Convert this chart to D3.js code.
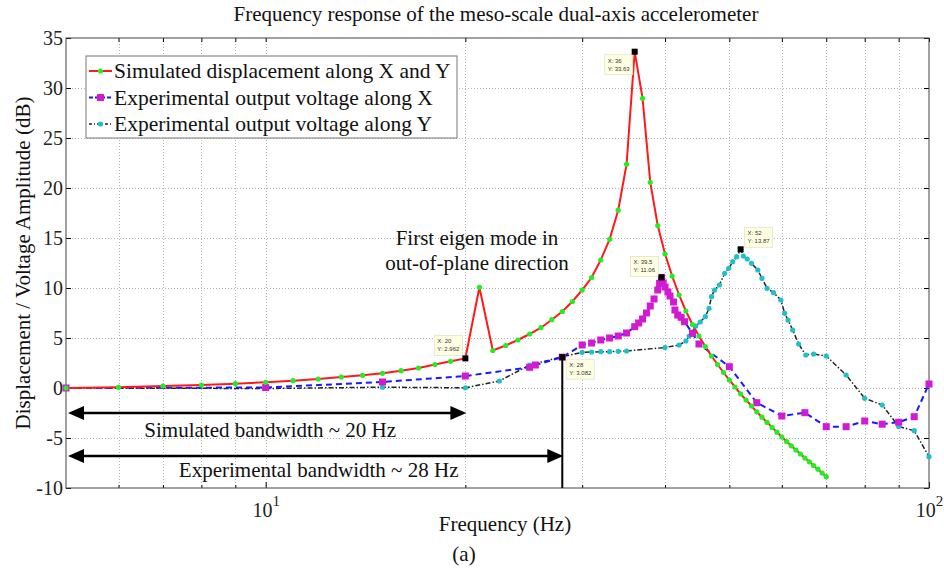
<!DOCTYPE html>
<html>
<head>
<meta charset="utf-8">
<script src="https://cdn.jsdelivr.net/npm/d3@7"></script>
<style>
  body { margin: 0; background: #fff; }
  svg text { font-family: "Liberation Serif", "Times New Roman", serif; }
</style>
</head>
<body>
<div id="chart"></div>
<script>
/* data */
const simFreq = [5, 6, 7, 8, 9, 10, 11, 12, 13, 14, 15, 16, 17, 18, 19, 20,
  21, 22, 23, 24, 25, 26, 27, 28, 29, 30, 31, 32, 33, 34, 35, 36, 37, 38, 39, 40,
  41, 42, 43, 44, 45, 46, 47, 48, 49, 50, 51, 52, 53, 54, 55, 56, 57, 58, 59, 60,
  61, 62, 63, 64, 65, 66, 67, 68, 69, 70];
const simDb = [0, 0.07, 0.2, 0.3, 0.43, 0.57, 0.73, 0.9, 1.1, 1.27, 1.47, 1.73, 2.0, 2.35, 2.67, 2.962,
  10.07, 3.75, 4.25, 4.8, 5.4, 6.03, 6.83, 7.65, 8.65, 9.8, 11.05, 12.8, 14.87, 17.78, 22.37, 33.63,
  28.97, 20.57, 16.25, 13.4, 11.2, 9.3, 7.7, 6.35, 5.2, 4.15, 3.2, 2.35, 1.55, 0.8, 0.1, -0.58,
  -1.2, -1.8, -2.38, -2.92, -3.44, -3.94, -4.42, -4.9, -5.35, -5.78, -6.2, -6.6, -7.0, -7.38,
  -7.75, -8.12, -8.5, -8.87];

const expXFreq = [5, 10, 15, 20, 25, 25.5, 28, 30, 31, 32, 33, 34, 35, 36, 36.5, 37, 37.5, 38,
  38.5, 39, 39.25, 39.5, 39.75, 40, 40.4, 40.7, 41.2, 41.4, 41.8, 42.3, 42.8, 44, 45, 50, 55,
  60, 65, 70, 75, 80, 85, 90, 95, 100];
const expXDb = [0, 0.05, 0.6, 1.2, 2.07, 2.3, 3.082, 4.3, 4.5, 4.8, 5.0, 5.2, 5.5, 6.13, 6.5,
  6.9, 7.5, 8.2, 8.9, 9.8, 10.45, 11.06, 10.5, 10.1, 9.6, 9.2, 8.6, 7.8, 7.3, 7.07, 6.63, 5.47,
  4.4, 2.13, -1.47, -2.8, -2.47, -3.87, -3.87, -3.3, -3.62, -3.42, -2.87, 0.4];

const expYFreq = [5, 10, 15, 20, 22.5, 25, 28, 30, 31, 32, 33, 34, 35, 40, 42, 43, 43.5, 44,
  44.5, 45.2, 46, 46.6, 47, 47.5, 48.3, 49.2, 49.9, 50.6, 51.3, 52, 52.5, 53.2, 54, 55.2, 56,
  57, 58.3, 59.8, 60.6, 61.3, 62.3, 63.6, 65.2, 67, 70, 75, 80, 85, 90, 95, 100];
const expYDb = [0, -0.05, 0.08, 0.02, 0.7, 2.3, 3.13, 3.57, 3.6, 3.63, 3.63, 3.67, 3.7, 4.05,
  4.3, 4.7, 5.2, 5.6, 6.2, 6.6, 7.13, 7.97, 9.13, 9.8, 10.3, 11.47, 11.97, 12.63, 13.13, 13.87,
  13.2, 12.9, 12.47, 11.8, 10.97, 9.97, 9.53, 8.8, 7.47, 6.8, 5.8, 4.4, 3.3, 3.4, 3.2, 1.3,
  -1.03, -1.7, -3.85, -4.27, -6.87];

const yTicks = [-10, -5, 0, 5, 10, 15, 20, 25, 30, 35];
const xMajor = [10, 100];
const xMinor = [6, 7, 8, 9, 20, 30, 40, 50, 60, 70, 80, 90];

const tipFreq = [20, 36, 28, 39.5, 52];
const tipDb = [2.962, 33.63, 3.082, 11.06, 13.87];

const legendLabels = ["Simulated displacement along X and Y",
  "Experimental output voltage along X",
  "Experimental output voltage along Y"];

const W = 944, H = 570;
const m = { left: 66, right: 929, top: 38, bottom: 488 };
const SERIF = "Liberation Serif, Times New Roman, serif";

const x = d3.scaleLog().domain([5, 100]).range([m.left, m.right]);
const y = d3.scaleLinear().domain([-10, 35]).range([m.bottom, m.top]);

const svg = d3.select("#chart").append("svg")
  .attr("width", W).attr("height", H);

/* grid */
const grid = svg.append("g").attr("stroke", "#b4b4b4").attr("stroke-width", 1)
  .attr("stroke-dasharray", "1,2");
grid.selectAll(".gx").data(xMinor.concat([10])).enter().append("line")
  .attr("x1", d => Math.round(x(d)) + 0.5).attr("x2", d => Math.round(x(d)) + 0.5)
  .attr("y1", m.top).attr("y2", m.bottom);
grid.selectAll(".gy").data(yTicks.filter(d => d > -10 && d < 35)).enter().append("line")
  .attr("y1", d => Math.round(y(d)) + 0.5).attr("y2", d => Math.round(y(d)) + 0.5)
  .attr("x1", m.left).attr("x2", m.right);

/* axes */
const fontSize = 21;
svg.append("g")
  .attr("transform", `translate(${m.left},0)`)
  .call(d3.axisLeft(y).tickValues(yTicks).tickSizeInner(-5).tickSizeOuter(0).tickPadding(3)
    .tickFormat(d => String(d)))
  .call(g => g.attr("font-family", SERIF).attr("font-size", 20))
  .call(g => g.select(".domain").remove())
  .call(g => g.selectAll("text").attr("fill", "#222"));

svg.append("g")
  .attr("transform", `translate(${m.right},0)`)
  .call(d3.axisRight(y).tickValues(yTicks).tickSizeInner(-5).tickSizeOuter(0).tickFormat(""))
  .call(g => g.select(".domain").remove());

svg.append("g")
  .attr("transform", `translate(0,${m.bottom})`)
  .call(d3.axisBottom(x).tickValues(xMinor).tickSizeInner(-3).tickSizeOuter(0).tickFormat(""))
  .call(g => g.select(".domain").remove());

const xAxis = svg.append("g")
  .attr("transform", `translate(0,${m.bottom})`)
  .call(d3.axisBottom(x).tickValues(xMajor).tickSizeInner(-6).tickSizeOuter(0).tickPadding(15))
  .call(g => g.attr("font-family", SERIF).attr("font-size", 20))
  .call(g => g.select(".domain").remove());
xAxis.selectAll(".tick text").each(function(d) {
  const t = d3.select(this).text(null).attr("fill", "#222");
  t.append("tspan").text("10");
  t.append("tspan").attr("dy", -11).attr("font-size", 15).text(Math.round(Math.log10(d)));
});

svg.append("g")
  .attr("transform", `translate(0,${m.top})`)
  .call(d3.axisTop(x).tickValues(xMinor.concat(xMajor)).tickSizeInner(-4).tickSizeOuter(0).tickFormat(""))
  .call(g => g.select(".domain").remove());

svg.append("rect")
  .attr("x", m.left).attr("y", m.top)
  .attr("width", m.right - m.left).attr("height", m.bottom - m.top)
  .attr("fill", "none").attr("stroke", "#444").attr("stroke-width", 1);

/* series */
const line = d3.line().x(d => x(d[0])).y(d => y(d[1]));
const sim = simFreq.map((f, i) => [f, simDb[i]]);
const expX = expXFreq.map((f, i) => [f, expXDb[i]]);
const expY = expYFreq.map((f, i) => [f, expYDb[i]]);

svg.append("path").datum(expY).attr("d", line)
  .attr("fill", "none").attr("stroke", "#222").attr("stroke-width", 1.5)
  .attr("stroke-dasharray", "5,2,1.5,2");
svg.append("path").datum(expX).attr("d", line)
  .attr("fill", "none").attr("stroke", "#1a1aff").attr("stroke-width", 2)
  .attr("stroke-dasharray", "6,4");
svg.append("path").datum(sim).attr("d", line)
  .attr("fill", "none").attr("stroke", "#ff1a1a").attr("stroke-width", 2);

svg.append("g").selectAll("circle").data(expY).enter().append("circle")
  .attr("cx", d => x(d[0])).attr("cy", d => y(d[1])).attr("r", 2.6)
  .attr("fill", "#1fc0c8");
svg.append("g").selectAll("rect").data(expX).enter().append("rect")
  .attr("x", d => x(d[0]) - 3.5).attr("y", d => y(d[1]) - 3.5)
  .attr("width", 7).attr("height", 7).attr("fill", "#d21ad2");
svg.append("g").selectAll("circle").data(sim).enter().append("circle")
  .attr("cx", d => x(d[0])).attr("cy", d => y(d[1])).attr("r", 2.6)
  .attr("fill", "#22ee22");

/* annotations: bandwidth arrows */
const arrowHead = (g, tipX, yy, dir) => {
  g.append("path")
    .attr("d", `M${tipX},${yy} L${tipX + dir * 16},${yy - 7} L${tipX + dir * 16},${yy + 7} Z`)
    .attr("fill", "#000");
};
const bw = [{ f: 20, v: -2.5, label: "Simulated bandwidth ~ 20 Hz", tv: -4.9 },
            { f: 28, v: -6.8, label: "Experimental bandwidth ~ 28 Hz", tv: -8.9 }];
const ann = svg.append("g");
bw.forEach(b => {
  const x0 = x(5) + 2, x1 = x(b.f) + 1, yy = y(b.v);
  ann.append("line").attr("x1", x0 + 10).attr("x2", x1 - 10)
    .attr("y1", yy).attr("y2", yy).attr("stroke", "#000").attr("stroke-width", 2.5);
  arrowHead(ann, x0, yy, 1);
  arrowHead(ann, x1, yy, -1);
  ann.append("text").attr("x", (x0 + x1) / 2 + 3).attr("y", y(b.tv))
    .attr("text-anchor", "middle").attr("font-size", fontSize).attr("fill", "#111")
    .text(b.label);
});
ann.append("line").attr("x1", x(28)).attr("x2", x(28))
  .attr("y1", y(3.082)).attr("y2", m.bottom)
  .attr("stroke", "#000").attr("stroke-width", 2);

const eigen = svg.append("text").attr("text-anchor", "middle").attr("font-size", fontSize)
  .attr("fill", "#111");
eigen.append("tspan").attr("x", 477).attr("y", 245).text("First eigen mode in");
eigen.append("tspan").attr("x", 477).attr("y", 270).text("out-of-plane direction");

/* data tips */
const tipOffsets = [[-31, -23], [-30, 3], [4, 2], [-31, -21], [4, -22]];
tipFreq.forEach((f, i) => {
  const px = x(f), py = y(tipDb[i]);
  const g = svg.append("g");
  const bx = px + tipOffsets[i][0], by = py + tipOffsets[i][1];
  g.append("rect").attr("x", bx).attr("y", by).attr("width", 28).attr("height", 20)
    .attr("fill", "#ffffe4").attr("stroke", "#e4e4cc").attr("stroke-width", 0.8);
  g.append("text").attr("x", bx + 3).attr("y", by + 8).attr("font-size", 6)
    .style("font-family", "Liberation Sans").attr("fill", "#333").text("X: " + f);
  g.append("text").attr("x", bx + 3).attr("y", by + 16).attr("font-size", 6)
    .style("font-family", "Liberation Sans").attr("fill", "#333").text("Y: " + tipDb[i]);
  g.append("rect").attr("x", px - 3).attr("y", py - 3).attr("width", 6).attr("height", 6)
    .attr("fill", "#000");
});

/* legend */
const leg = svg.append("g");
leg.append("rect").attr("x", 86).attr("y", 56).attr("width", 371).attr("height", 82)
  .attr("fill", "#fff").attr("stroke", "#777").attr("stroke-width", 1);
const legStyles = [
  { stroke: "#ff1a1a", dash: null, w: 2, marker: "circle", fill: "#22ee22" },
  { stroke: "#1a1aff", dash: "4,2", w: 2, marker: "square", fill: "#d21ad2" },
  { stroke: "#222", dash: "3,2,1,2", w: 1.5, marker: "circle", fill: "#1fc0c8" }];
legendLabels.forEach((lab, i) => {
  const cy = 71 + i * 26.5, s = legStyles[i];
  leg.append("line").attr("x1", 89).attr("x2", 112).attr("y1", cy).attr("y2", cy)
    .attr("stroke", s.stroke).attr("stroke-width", s.w).attr("stroke-dasharray", s.dash);
  if (s.marker === "circle") {
    leg.append("circle").attr("cx", 100.5).attr("cy", cy).attr("r", 2.6).attr("fill", s.fill);
  } else {
    leg.append("rect").attr("x", 97).attr("y", cy - 3.5).attr("width", 7).attr("height", 7)
      .attr("fill", s.fill);
  }
  leg.append("text").attr("x", 114).attr("y", cy + 7).attr("font-size", 21.5)
    .attr("fill", "#111").text(lab);
});

/* titles */
svg.append("text").attr("x", 496).attr("y", 21).attr("text-anchor", "middle")
  .attr("font-size", fontSize).attr("fill", "#111")
  .text("Frequency response of the meso-scale dual-axis accelerometer");
svg.append("text").attr("x", 505).attr("y", 531).attr("text-anchor", "middle")
  .attr("font-size", fontSize).attr("fill", "#111").text("Frequency (Hz)");
svg.append("text").attr("x", 464).attr("y", 561).attr("text-anchor", "middle")
  .attr("font-size", fontSize).attr("fill", "#111").text("(a)");
svg.append("text").attr("transform", `translate(30,${(m.top + m.bottom) / 2}) rotate(-90)`)
  .attr("text-anchor", "middle").attr("font-size", fontSize).attr("fill", "#111")
  .text("Displacement / Voltage Amplitude (dB)");
</script>
</body>
</html>
